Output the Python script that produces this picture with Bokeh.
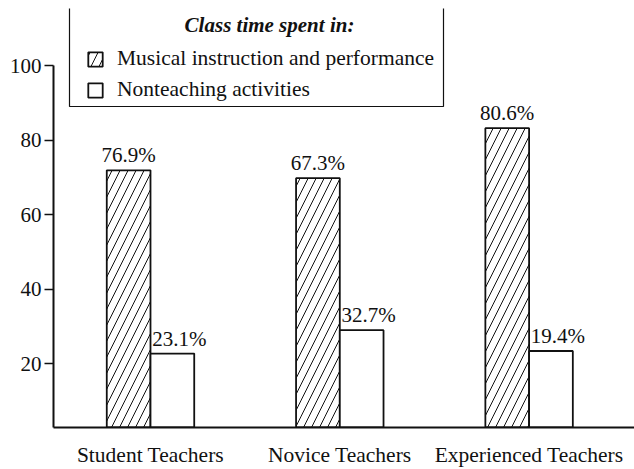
from bokeh.plotting import figure
from bokeh.models import (Range1d, FixedTicker, ColumnDataSource, BoxAnnotation,
                          Label, Legend, LegendItem)
from bokeh.transform import dodge
from bokeh.embed import file_html
from bokeh.resources import INLINE

# ---- data ----
groups = ["Student Teachers", "Novice Teachers", "Experienced Teachers"]
group_pos = [1, 2, 3]
musical_height = [71.9, 69.8, 83.2]        # drawn bar heights
nonteaching_height = [22.7, 29.0, 23.4]    # drawn bar heights
musical_labels = ["76.9%", "67.3%", "80.6%"]
nonteaching_labels = ["23.1%", "32.7%", "19.4%"]
y_ticks = [20, 40, 60, 80, 100]
legend_title = "Class time spent in:"
series_names = ["Musical instruction and performance", "Nonteaching activities"]

SERIF = "Liberation Serif"
INK = "#111111"
BW = 0.231
Y0 = 2.87

src = ColumnDataSource(dict(pos=group_pos, musical=musical_height,
                            nonteaching=nonteaching_height,
                            mlab=musical_labels, nlab=nonteaching_labels))

p = figure(width=634, height=469, x_range=Range1d(0.4876, 3.5568),
           y_range=Range1d(Y0, 115.33), output_backend="svg",
           toolbar_location=None, min_border_left=53, min_border_right=0,
           min_border_top=8, min_border_bottom=34)
p.outline_line_color = None
p.xgrid.visible = False
p.ygrid.visible = False
p.background_fill_color = "white"

r1 = p.vbar(x=dodge("pos", -BW / 2, range=p.x_range), top="musical", bottom=Y0,
            width=BW, source=src, fill_color="white", line_color=INK, line_width=1.8,
            hatch_pattern="/", hatch_color=INK, hatch_weight=1, hatch_scale=16)
r2 = p.vbar(x=dodge("pos", BW / 2, range=p.x_range), top="nonteaching", bottom=Y0,
            width=BW, source=src, fill_color="white", line_color=INK, line_width=1.8)

p.text(x=dodge("pos", -BW / 2, range=p.x_range), y="musical", text="mlab",
       source=src, text_align="center", text_baseline="bottom", y_offset=-3,
       text_font={"value": SERIF}, text_font_size="21px", text_color=INK)
p.text(x=dodge("pos", BW / 2, range=p.x_range), y="nonteaching", text="nlab",
       source=src, text_align="center", text_baseline="bottom", y_offset=-3,
       x_offset=7, text_font={"value": SERIF}, text_font_size="21px",
       text_color=INK)

# axes
p.yaxis.ticker = FixedTicker(ticks=y_ticks)
p.yaxis.bounds = (Y0, 100)
p.yaxis.axis_line_width = 2
p.yaxis.axis_line_color = INK
p.yaxis.major_tick_line_width = 1.5
p.yaxis.major_tick_line_color = INK
p.yaxis.major_tick_out = 9
p.yaxis.major_tick_in = 0
p.yaxis.minor_tick_line_color = None
p.yaxis.major_label_standoff = 3
p.yaxis.major_label_text_font = SERIF
p.yaxis.major_label_text_font_size = "21px"
p.yaxis.major_label_text_color = INK

p.xaxis.ticker = FixedTicker(ticks=group_pos)
p.xaxis.major_label_overrides = {pos: g for pos, g in zip(group_pos, groups)}
p.xaxis.axis_line_width = 2
p.xaxis.axis_line_color = INK
p.xaxis.major_tick_line_color = None
p.xaxis.minor_tick_line_color = None
p.xaxis.major_label_standoff = 9
p.xaxis.major_label_text_font = SERIF
p.xaxis.major_label_text_font_size = "21.5px"
p.xaxis.major_label_text_color = INK

# legend box
p.add_layout(BoxAnnotation(left=16, right=390, top=425, bottom=321,
                           left_units="screen", right_units="screen",
                           top_units="screen", bottom_units="screen",
                           fill_color="white", fill_alpha=1,
                           line_color=INK, line_width=1.2, line_alpha=1))
p.add_layout(Label(x=216, y=403, x_units="screen", y_units="screen",
                   text=legend_title, text_align="center", text_baseline="middle",
                   text_font=SERIF, text_font_style="bold italic",
                   text_font_size="21px", text_color=INK))
legend = Legend(items=[LegendItem(label=series_names[0], renderers=[r1]),
                       LegendItem(label=series_names[1], renderers=[r2])],
                location=(33, 325), padding=0, margin=0, spacing=6,
                glyph_width=18, glyph_height=18, label_height=18,
                label_standoff=13, border_line_color=None,
                background_fill_alpha=0, label_text_font=SERIF,
                label_text_font_size="21.5px", label_text_color=INK)
p.add_layout(legend, "center")

open("out.html", "w").write(file_html(p, INLINE))
